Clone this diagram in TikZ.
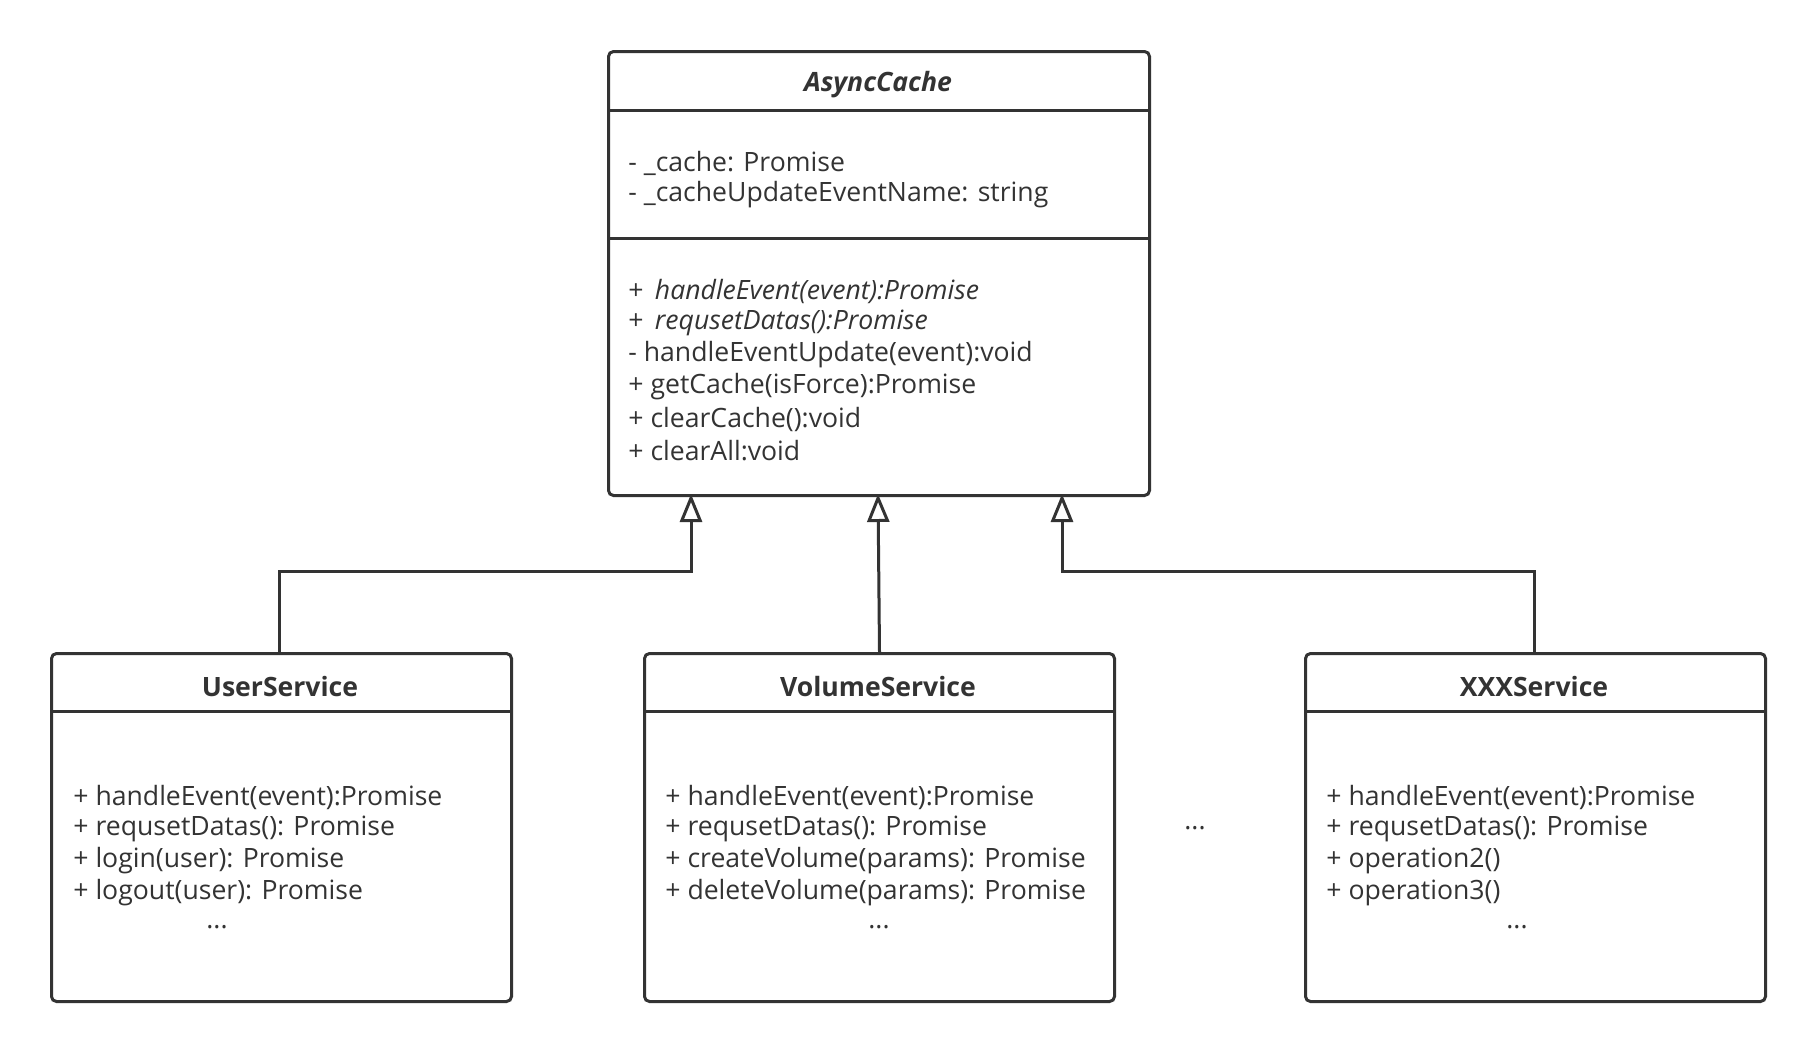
\documentclass[tikz,border=0pt]{standalone}
\usepackage{fontspec}
\setmainfont{Open Sans}
\usetikzlibrary{arrows.meta}
\definecolor{ink}{HTML}{333333}
\newcommand{\classfont}{\fontsize{13.3pt}{15pt}\selectfont}
\begin{document}
\begin{tikzpicture}[x=0.5pt,y=-0.5pt,
  every node/.style={text=ink,font=\classfont},
  classbox/.style={draw=ink,line width=1.5pt,rounded corners=2.5pt,fill=white,
    rectangle,inner sep=0pt,anchor=north west},
  sepline/.style={draw=ink,line width=1.5pt},
  member/.style={anchor=west,inner sep=0pt},
  title/.style={inner sep=0pt,font=\classfont\bfseries},
  inherit/.style={draw=ink,line width=1.5pt,
    -{Triangle[open,width=11pt,length=14pt,fill=white,line width=1.5pt]}}]
\useasboundingbox[fill=white] (0,0) rectangle (1814,1050);

% abstract base class
\node[classbox,minimum width=270.5pt,minimum height=222pt] (ac) at (607,50) {};
\draw[sepline] (607,110) -- (1148,110);
\draw[sepline] (607,238) -- (1148,238);
\node[title,font=\classfont\bfseries\itshape] (acname) at (878,85) {AsyncCache};
\node[member] (a1) at (628,163) {- \_cache: Promise};
\node[member] (a2) at (628,195) {- \_cacheUpdateEventName: string};
\node[member] (m1) at (628,291) {+\, \textit{handleEvent(event):Promise}};
\node[member] (m2) at (628,323) {+\, \textit{requsetDatas():Promise}};
\node[member] (m3) at (628,355) {- handleEventUpdate(event):void};
\node[member] (m4) at (628,387) {+ getCache(isForce):Promise};
\node[member] (m5) at (628,419) {+ clearCache():void};
\node[member] (m6) at (628,451) {+ clearAll:void};

% UserService
\node[classbox,minimum width=230pt,minimum height=174pt] (us) at (50,652) {};
\draw[sepline] (50,711) -- (510,711);
\node[title] (usname) at (280,687) {UserService};
\node[member] (u1) at (73,797) {+ handleEvent(event):Promise};
\node[member] (u2) at (73,829) {+ requsetDatas(): Promise};
\node[member] (u3) at (73,861) {+ login(user): Promise};
\node[member] (u4) at (73,893) {+ logout(user): Promise};
\node (u5) at (217,927) {...};

% VolumeService
\node[classbox,minimum width=235pt,minimum height=174pt] (vs) at (643,652) {};
\draw[sepline] (643,711) -- (1113,711);
\node[title] (vsname) at (878,687) {VolumeService};
\node[member] (v1) at (665,797) {+ handleEvent(event):Promise};
\node[member] (v2) at (665,829) {+ requsetDatas(): Promise};
\node[member] (v3) at (665,861) {+ createVolume(params): Promise};
\node[member] (v4) at (665,893) {+ deleteVolume(params): Promise};
\node (v5) at (879,927) {...};

% XXXService
\node[classbox,minimum width=230pt,minimum height=174pt] (xs) at (1304,652) {};
\draw[sepline] (1304,711) -- (1764,711);
\node[title] (xsname) at (1534,687) {XXXService};
\node[member] (x1) at (1326,797) {+ handleEvent(event):Promise};
\node[member] (x2) at (1326,829) {+ requsetDatas(): Promise};
\node[member] (x3) at (1326,861) {+ operation2()};
\node[member] (x4) at (1326,893) {+ operation3()};
\node (x5) at (1517,927) {...};

\node (more) at (1195,828) {...};

% generalization connectors
\coordinate (tu) at (691,494);
\coordinate (tv) at (878,494);
\coordinate (tx) at (1062,494);
\coordinate (bu) at (279,652);
\coordinate (bx) at (1534,652);
\coordinate (ju) at (279,571);
\coordinate (jx) at (1534,571);
\draw[inherit] (bu) -- (ju) -| (tu);
\draw[inherit] (vs.north) -- (tv);
\draw[inherit] (bx) -- (jx) -| (tx);
\end{tikzpicture}
\end{document}
